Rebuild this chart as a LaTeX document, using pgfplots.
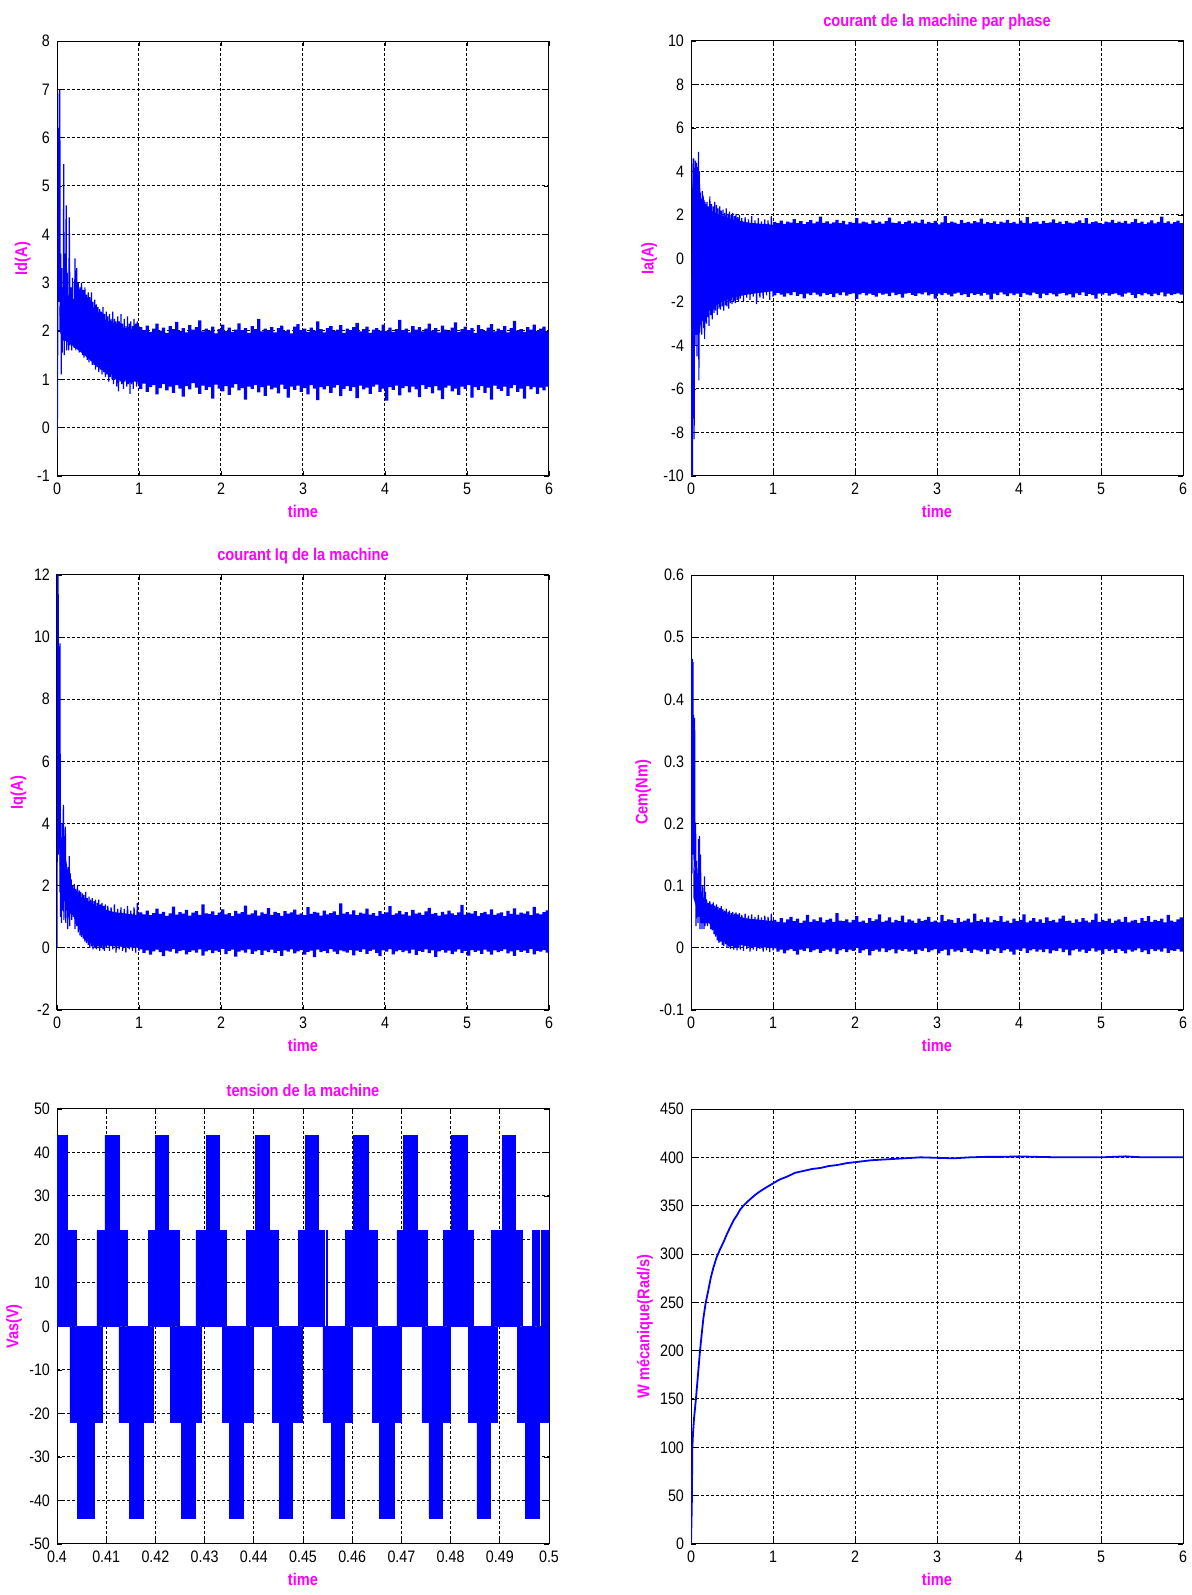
\documentclass[border=0pt]{standalone}
\usepackage{fontspec}
\setmainfont{Liberation Sans}[FakeStretch=0.86]
\usepackage{pgfplots}
\pgfplotsset{compat=1.18}
\definecolor{mag}{RGB}{255,0,255}
\definecolor{mblue}{RGB}{0,0,255}
\pgfplotsset{
 panel/.style={
  scale only axis, width=246pt, height=217.5pt, anchor=south west,
  axis line style={black, line width=0.5pt},
  grid=major,
  major grid style={black, line width=0.5pt, dash pattern=on 1.5pt off 1pt},
  tick align=inside, major tick length=2.5pt,
  tick style={black, line width=0.4pt},
  tick label style={font=\fontsize{8.3}{10}\selectfont, black},
  /pgf/number format/assume math mode=true,
  scaled ticks=false,
  xlabel={time},
  every axis x label/.style={at={(axis description cs:0.5,-0.0818)}, anchor=center, font=\fontsize{8.5}{10}\selectfont\bfseries, text=mag},
  every axis y label/.style={rotate=90, anchor=center, font=\fontsize{8.5}{10}\selectfont\bfseries, text=mag},
  every axis title/.style={at={(axis description cs:0.5,1.0423)}, anchor=center, font=\fontsize{8.5}{10}\selectfont\bfseries, text=mag},
  xmin=0, xmax=6, xtick={0,1,2,3,4,5,6},
 },
 zig/.style={mblue, line width=0.6pt, line join=bevel},
 core/.style={fill=mblue, draw=none},
 band/.style={fill=mblue, draw=none, const plot},
}
\begin{document}
\begin{tikzpicture}
\useasboundingbox (0,0) rectangle (596pt,797.5pt);
% ---------------- Id ----------------
\begin{axis}[panel, at={(28.5pt,559.5pt)}, ymin=-1, ymax=8, ytick={-1,0,...,8},
 ylabel={Id(A)}, ylabel style={at={(axis description cs:-0.0699,0.5)}}]
\addplot[core] coordinates {(0.03,2.5) (0.1,2.9) (0.15,2.7) (0.3,2.6) (0.4,2.5) (0.5,2.3) (0.6,2.2) (0.8,2.05) (1.0,1.98) (1.0,0.95) (0.8,1.0) (0.6,1.15) (0.5,1.25) (0.4,1.4) (0.3,1.55) (0.15,1.75) (0.1,1.8) (0.03,2.0)};
\addplot[zig] coordinates {(0,-0.1) (0.004,-0.2) (0.01,2.4) (0.016,6.2) (0.022,2.6) (0.028,6.9) (0.034,7.0) (0.04,2.3) (0.046,3.6) (0.052,1.1) (0.058,3.3) (0.064,1.55) (0.07,2.9) (0.076,1.8) (0.082,5.45) (0.088,1.5) (0.094,3.6) (0.1,1.8) (0.106,2.9) (0.112,4.6) (0.118,1.6) (0.124,3.2) (0.13,1.9) (0.136,2.7) (0.142,1.6)
(0.15,4.35) (0.16,1.7) (0.17,2.9) (0.18,1.6) (0.19,3.1) (0.20,1.75) (0.21,1.65) (0.22,3.5) (0.23,1.6) (0.24,3.3) (0.25,1.7) (0.26,3.0) (0.27,1.55) (0.28,2.9) (0.29,1.6) (0.30,3.0) (0.31,1.5) (0.32,2.85) (0.33,1.45) (0.34,2.9) (0.35,1.5) (0.36,2.75) (0.37,1.4) (0.38,2.8) (0.39,1.35) (0.40,2.7) (0.41,1.4) (0.42,2.8) (0.43,1.3) (0.44,2.6) (0.45,1.3) (0.46,2.65) (0.47,1.2) (0.48,2.55) (0.49,1.25) (0.50,2.5) (0.51,1.15) (0.52,2.45) (0.53,1.2) (0.54,2.4) (0.55,1.1) (0.56,2.5) (0.57,1.15) (0.58,2.35) (0.59,1.05) (0.60,2.4) (0.61,1.1) (0.62,2.3) (0.63,0.95) (0.64,2.35) (0.65,1.05) (0.66,2.25) (0.67,1.0) (0.68,2.4) (0.69,0.9) (0.70,2.25) (0.71,1.0) (0.72,2.2) (0.73,0.85) (0.74,2.3) (0.75,0.75) (0.76,2.2) (0.77,0.95) (0.78,2.35) (0.79,0.9) (0.80,2.15) (0.81,0.8) (0.82,2.25) (0.83,0.95) (0.84,2.1) (0.85,0.85) (0.86,2.3) (0.87,0.9) (0.88,2.15) (0.89,0.7) (0.90,2.2) (0.91,0.9) (0.92,2.1) (0.93,0.8) (0.94,2.25) (0.95,0.95) (0.96,2.15) (0.97,0.85) (0.98,2.2) (0.99,0.9) (1.00,2.1)};
\addplot[band] coordinates {
(1.00,2.08) (1.04,2.02) (1.08,2.11) (1.12,1.98) (1.16,2.05) (1.20,2.15) (1.24,2.01) (1.28,2.07) (1.32,1.96) (1.36,2.10) (1.40,2.04) (1.44,2.19) (1.48,2.00) (1.52,2.06) (1.56,1.97) (1.60,2.12) (1.64,2.03) (1.68,2.08) (1.72,2.22) (1.76,1.99) (1.80,2.05)
(1.84,2.01) (1.88,2.09) (1.92,1.95) (1.96,2.04) (2.00,2.13) (2.04,2.00) (2.08,2.07) (2.12,1.98) (2.16,2.03) (2.20,2.16) (2.24,2.02) (2.28,2.06) (2.32,1.96) (2.36,2.10) (2.40,2.04) (2.44,2.25) (2.48,1.99) (2.52,2.05) (2.56,2.01) (2.60,2.08) (2.64,1.97)
(2.68,2.06) (2.72,2.11) (2.76,2.00) (2.80,2.03) (2.84,1.95) (2.88,2.09) (2.92,2.14) (2.96,2.02) (3.00,2.05) (3.04,1.98) (3.08,2.07) (3.12,2.01) (3.16,2.20) (3.20,2.04) (3.24,1.97) (3.28,2.06) (3.32,2.10) (3.36,2.00) (3.40,2.03) (3.44,2.12) (3.48,1.96)
(3.52,2.05) (3.56,2.02) (3.60,2.08) (3.64,2.17) (3.68,1.99) (3.72,2.04) (3.76,2.09) (3.80,1.96) (3.84,2.03) (3.88,2.06) (3.92,2.01) (3.96,2.13) (4.00,2.00) (4.04,2.07) (4.08,1.98) (4.12,2.04) (4.16,2.23) (4.20,2.02) (4.24,2.05) (4.28,1.97) (4.32,2.10)
(4.36,2.03) (4.40,2.08) (4.44,1.99) (4.48,2.05) (4.52,2.15) (4.56,2.01) (4.60,2.06) (4.64,1.97) (4.68,2.11) (4.72,2.03) (4.76,2.00) (4.80,2.07) (4.84,2.18) (4.88,1.98) (4.92,2.04) (4.96,2.09) (5.00,2.02) (5.04,2.06) (5.08,1.96) (5.12,2.12) (5.16,2.04)
(5.20,2.00) (5.24,2.07) (5.28,2.14) (5.32,1.99) (5.36,2.05) (5.40,2.02) (5.44,2.10) (5.48,1.97) (5.52,2.06) (5.56,2.21) (5.60,2.01) (5.64,2.04) (5.68,1.98) (5.72,2.08) (5.76,2.03) (5.80,2.13) (5.84,2.00) (5.88,2.05) (5.92,2.09) (5.96,1.99) (6.00,2.06)
(6.00,0.85) (5.96,0.77) (5.92,0.83) (5.88,0.70) (5.84,0.84) (5.80,0.79) (5.76,0.86) (5.72,0.60) (5.68,0.81) (5.64,0.74) (5.60,0.88) (5.56,0.82) (5.52,0.66) (5.48,0.85) (5.44,0.76) (5.40,0.80) (5.36,0.87) (5.32,0.58) (5.28,0.83) (5.24,0.72) (5.20,0.86)
(5.16,0.78) (5.12,0.84) (5.08,0.62) (5.04,0.88) (5.00,0.80) (4.96,0.85) (4.92,0.68) (4.88,0.81) (4.84,0.75) (4.80,0.87) (4.76,0.83) (4.72,0.59) (4.68,0.77) (4.64,0.86) (4.60,0.71) (4.56,0.84) (4.52,0.80) (4.48,0.88) (4.44,0.63) (4.40,0.79) (4.36,0.85)
(4.32,0.73) (4.28,0.86) (4.24,0.82) (4.20,0.67) (4.16,0.87) (4.12,0.78) (4.08,0.84) (4.04,0.56) (4.00,0.81) (3.96,0.74) (3.92,0.89) (3.88,0.85) (3.84,0.70) (3.80,0.83) (3.76,0.79) (3.72,0.87) (3.68,0.61) (3.64,0.84) (3.60,0.76) (3.56,0.86) (3.52,0.80)
(3.48,0.65) (3.44,0.88) (3.40,0.83) (3.36,0.72) (3.32,0.86) (3.28,0.79) (3.24,0.84) (3.20,0.57) (3.16,0.81) (3.12,0.88) (3.08,0.69) (3.04,0.82) (3.00,0.74) (2.96,0.87) (2.92,0.78) (2.88,0.85) (2.84,0.62) (2.80,0.80) (2.76,0.89) (2.72,0.71) (2.68,0.83)
(2.64,0.79) (2.60,0.87) (2.56,0.66) (2.52,0.84) (2.48,0.73) (2.44,0.88) (2.40,0.80) (2.36,0.85) (2.32,0.58) (2.28,0.82) (2.24,0.77) (2.20,0.90) (2.16,0.83) (2.12,0.68) (2.08,0.86) (2.04,0.75) (2.00,0.81) (1.96,0.89) (1.92,0.60) (1.88,0.84) (1.84,0.78)
(1.80,0.87) (1.76,0.70) (1.72,0.83) (1.68,0.92) (1.64,0.79) (1.60,0.86) (1.56,0.64) (1.52,0.81) (1.48,0.88) (1.44,0.72) (1.40,0.85) (1.36,0.77) (1.32,0.90) (1.28,0.82) (1.24,0.69) (1.20,0.88) (1.16,0.84) (1.12,0.74) (1.08,0.91) (1.04,0.80) (1.00,0.86)};
\end{axis}
% ---------------- Ia ----------------
\begin{axis}[panel, at={(345.5pt,559.5pt)}, ymin=-10, ymax=10, ytick={-10,-8,...,10},
 ylabel={Ia(A)}, ylabel style={at={(axis description cs:-0.0850,0.5)}},
 title={courant de la machine par phase}]
\addplot[core] coordinates {(0.012,3.0) (0.03,4.2) (0.1,4.0) (0.12,2.8) (0.2,2.3) (0.3,2.1) (0.4,1.95) (0.5,1.8) (0.7,1.65) (1.0,1.55) (1.0,-1.5) (0.7,-1.65) (0.5,-1.8) (0.4,-1.95) (0.3,-2.1) (0.2,-2.5) (0.12,-3.0) (0.1,-3.5) (0.03,-3.5) (0.012,-5)};
\addplot[zig] coordinates {(0,0.2) (0.004,-2) (0.008,-10.5) (0.014,-9.5) (0.018,-10.5) (0.022,2.5) (0.026,4.6) (0.03,-6) (0.034,4.6) (0.038,-8.3) (0.044,3.5) (0.05,-4) (0.056,4.5) (0.062,-3.5) (0.068,4.4) (0.074,-4.5) (0.08,4.2) (0.086,-3.2) (0.092,4.9) (0.096,-5.6) (0.1,4.0) (0.106,-3.4) (0.112,3.0) (0.118,-3.0) (0.124,2.6) (0.13,-3.5) (0.136,3.1) (0.142,-2.8) (0.148,2.9) (0.154,-3.2) (0.16,2.7) (0.166,-3.7) (0.172,2.6) (0.178,-2.9) (0.184,2.5) (0.19,-3.0) (0.196,2.6) (0.2,-2.7)
(0.21,2.4) (0.22,-3.1) (0.23,2.85) (0.24,-2.6) (0.25,2.5) (0.26,-2.8) (0.27,2.4) (0.28,-2.5) (0.29,2.6) (0.30,-2.4) (0.31,2.45) (0.32,-2.6) (0.33,2.3) (0.34,-2.3) (0.35,2.4) (0.36,-2.35) (0.37,2.2) (0.38,-2.2) (0.39,2.25) (0.40,-2.4) (0.41,2.1) (0.42,-2.15) (0.43,2.3) (0.44,-2.2) (0.45,2.05) (0.46,-2.3) (0.47,2.15) (0.48,-2.05) (0.49,2.0) (0.50,-2.1) (0.51,2.1) (0.52,-1.95) (0.53,1.95) (0.54,-2.05) (0.55,2.05) (0.56,-1.9) (0.57,1.9) (0.58,-2.0) (0.59,2.0) (0.60,-1.85) (0.62,1.85) (0.64,-1.95) (0.66,1.9) (0.68,-1.8) (0.70,1.8) (0.72,-1.9) (0.74,1.95) (0.76,-1.75) (0.78,1.75) (0.80,-2.1) (0.82,1.85) (0.84,-1.8) (0.86,1.7) (0.88,-1.85) (0.90,1.8) (0.92,-1.7) (0.94,1.75) (0.96,-1.9) (0.98,1.95) (1.00,-1.75)};
\addplot[band] coordinates {
(1.00,1.68) (1.04,1.62) (1.08,1.74) (1.12,1.59) (1.16,1.70) (1.20,1.65) (1.24,1.81) (1.28,1.63) (1.32,1.72) (1.36,1.58) (1.40,1.67) (1.44,1.76) (1.48,1.61) (1.52,1.69) (1.56,1.92) (1.60,1.64) (1.64,1.71) (1.68,1.60) (1.72,1.66) (1.76,1.78) (1.80,1.62)
(1.84,1.73) (1.88,1.57) (1.92,1.68) (1.96,1.64) (2.00,1.85) (2.04,1.61) (2.08,1.70) (2.12,1.66) (2.16,1.59) (2.20,1.75) (2.24,1.63) (2.28,1.69) (2.32,1.60) (2.36,1.72) (2.40,1.88) (2.44,1.65) (2.48,1.62) (2.52,1.71) (2.56,1.58) (2.60,1.67) (2.64,1.74)
(2.68,1.61) (2.72,1.69) (2.76,1.64) (2.80,1.79) (2.84,1.60) (2.88,1.68) (2.92,1.63) (2.96,1.73) (3.00,1.57) (3.04,1.66) (3.08,1.95) (3.12,1.62) (3.16,1.70) (3.20,1.65) (3.24,1.59) (3.28,1.76) (3.32,1.64) (3.36,1.68) (3.40,1.61) (3.44,1.72) (3.48,1.66)
(3.52,1.83) (3.56,1.60) (3.60,1.67) (3.64,1.63) (3.68,1.71) (3.72,1.58) (3.76,1.69) (3.80,1.65) (3.84,1.77) (3.88,1.62) (3.92,1.68) (3.96,1.60) (4.00,1.74) (4.04,1.64) (4.08,1.90) (4.12,1.61) (4.16,1.67) (4.20,1.70) (4.24,1.59) (4.28,1.73) (4.32,1.63)
(4.36,1.66) (4.40,1.80) (4.44,1.62) (4.48,1.69) (4.52,1.58) (4.56,1.72) (4.60,1.65) (4.64,1.61) (4.68,1.68) (4.72,1.75) (4.76,1.63) (4.80,1.86) (4.84,1.60) (4.88,1.67) (4.92,1.71) (4.96,1.64) (5.00,1.59) (5.04,1.70) (5.08,1.66) (5.12,1.78) (5.16,1.62)
(5.20,1.69) (5.24,1.64) (5.28,1.73) (5.32,1.60) (5.36,1.67) (5.40,1.82) (5.44,1.63) (5.48,1.70) (5.52,1.58) (5.56,1.66) (5.60,1.75) (5.64,1.61) (5.68,1.68) (5.72,1.93) (5.76,1.64) (5.80,1.71) (5.84,1.60) (5.88,1.67) (5.92,1.74) (5.96,1.62) (6.00,1.69)
(6.00,-1.66) (5.96,-1.60) (5.92,-1.64) (5.88,-1.69) (5.84,-1.62) (5.80,-1.74) (5.76,-1.56) (5.72,-1.68) (5.68,-1.61) (5.64,-1.73) (5.60,-1.65) (5.56,-1.59) (5.52,-1.70) (5.48,-1.63) (5.44,-1.81) (5.40,-1.67) (5.36,-1.57) (5.32,-1.62) (5.28,-1.75) (5.24,-1.68) (5.20,-1.60)
(5.16,-1.64) (5.12,-1.71) (5.08,-1.58) (5.04,-1.66) (5.00,-1.61) (4.96,-1.85) (4.92,-1.69) (4.88,-1.63) (4.84,-1.72) (4.80,-1.56) (4.76,-1.67) (4.72,-1.60) (4.68,-1.79) (4.64,-1.64) (4.60,-1.70) (4.56,-1.58) (4.52,-1.62) (4.48,-1.74) (4.44,-1.65) (4.40,-1.59) (4.36,-1.68)
(4.32,-1.61) (4.28,-1.82) (4.24,-1.64) (4.20,-1.57) (4.16,-1.70) (4.12,-1.66) (4.08,-1.59) (4.04,-1.76) (4.00,-1.62) (3.96,-1.68) (3.92,-1.60) (3.88,-1.73) (3.84,-1.65) (3.80,-1.56) (3.76,-1.69) (3.72,-1.61) (3.68,-1.88) (3.64,-1.66) (3.60,-1.58) (3.56,-1.71) (3.52,-1.63)
(3.48,-1.67) (3.44,-1.60) (3.40,-1.77) (3.36,-1.64) (3.32,-1.69) (3.28,-1.57) (3.24,-1.62) (3.20,-1.74) (3.16,-1.66) (3.12,-1.59) (3.08,-1.68) (3.04,-1.61) (3.00,-1.84) (2.96,-1.63) (2.92,-1.70) (2.88,-1.56) (2.84,-1.65) (2.80,-1.60) (2.76,-1.72) (2.72,-1.67) (2.68,-1.58)
(2.64,-1.62) (2.60,-1.80) (2.56,-1.64) (2.52,-1.69) (2.48,-1.57) (2.44,-1.73) (2.40,-1.61) (2.36,-1.66) (2.32,-1.59) (2.28,-1.75) (2.24,-1.67) (2.20,-1.62) (2.16,-1.70) (2.12,-1.58) (2.08,-1.65) (2.04,-1.86) (2.00,-1.60) (1.96,-1.64) (1.92,-1.71) (1.88,-1.56) (1.84,-1.68)
(1.80,-1.60) (1.76,-1.78) (1.72,-1.63) (1.68,-1.67) (1.64,-1.59) (1.60,-1.74) (1.56,-1.66) (1.52,-1.57) (1.48,-1.69) (1.44,-1.61) (1.40,-1.83) (1.36,-1.64) (1.32,-1.72) (1.28,-1.55) (1.24,-1.68) (1.20,-1.60) (1.16,-1.75) (1.12,-1.66) (1.08,-1.58) (1.04,-1.70) (1.00,-1.62)};
\end{axis}
% ---------------- Iq ----------------
\begin{axis}[panel, at={(28.5pt,292.5pt)}, ymin=-2, ymax=12, ytick={-2,0,...,12},
 ylabel={Iq(A)}, ylabel style={at={(axis description cs:-0.0785,0.5)}},
 title={courant Iq de la machine}]
\addplot[core] coordinates {(0.03,3.2) (0.1,3.0) (0.17,1.9) (0.3,1.6) (0.5,1.3) (0.7,1.15) (1.0,1.05) (1.0,0.0) (0.7,0.05) (0.5,0.1) (0.4,0.15) (0.3,0.45) (0.17,1.2) (0.1,1.5) (0.03,1.8)};
\addplot[zig] coordinates {(0,0) (0.004,6) (0.008,12.5) (0.012,12.8) (0.016,10) (0.02,3.0) (0.026,9.7) (0.03,3.2) (0.036,9.8) (0.042,1.0) (0.048,3.5) (0.054,0.8) (0.06,4.0) (0.066,1.2) (0.072,3.0) (0.078,4.6) (0.084,0.9) (0.09,3.6) (0.096,1.5) (0.102,3.9) (0.108,0.8) (0.114,2.5) (0.12,1.2) (0.126,2.3) (0.132,0.6) (0.138,2.6) (0.144,1.0) (0.15,2.95) (0.156,0.7) (0.162,2.4) (0.168,1.1) (0.174,2.2) (0.18,0.9)
(0.19,2.0) (0.20,1.0) (0.21,2.05) (0.22,0.6) (0.23,1.9) (0.24,0.7) (0.25,2.0) (0.26,0.5) (0.27,1.85) (0.28,0.4) (0.29,1.8) (0.30,0.35) (0.31,1.75) (0.32,0.3) (0.33,1.7) (0.34,0.2) (0.35,1.8) (0.36,0.15) (0.37,1.6) (0.38,0.1) (0.39,1.65) (0.40,0.0) (0.41,1.55) (0.42,0.05) (0.43,1.6) (0.44,-0.05) (0.45,1.5) (0.46,0.0) (0.47,1.55) (0.48,-0.05) (0.49,1.45) (0.50,0.05) (0.51,1.55) (0.52,-0.1) (0.53,1.4) (0.54,0.0) (0.55,1.45) (0.56,-0.05) (0.57,1.35) (0.58,-0.1) (0.59,1.4) (0.60,0.0) (0.62,1.35) (0.64,-0.1) (0.66,1.3) (0.68,-0.05) (0.70,1.4) (0.72,-0.15) (0.74,1.25) (0.76,-0.05) (0.78,1.3) (0.80,-0.1) (0.82,1.25) (0.84,-0.15) (0.86,1.35) (0.88,-0.05) (0.90,1.2) (0.92,-0.1) (0.94,1.3) (0.96,-0.15) (0.98,1.45) (1.00,-0.1)};
\addplot[band] coordinates {
(1.00,1.14) (1.04,1.08) (1.08,1.20) (1.12,1.05) (1.16,1.12) (1.20,1.26) (1.24,1.09) (1.28,1.16) (1.32,1.03) (1.36,1.11) (1.40,1.33) (1.44,1.07) (1.48,1.15) (1.52,1.10) (1.56,1.22) (1.60,1.04) (1.64,1.13) (1.68,1.18) (1.72,1.06) (1.76,1.40) (1.80,1.11)
(1.84,1.09) (1.88,1.17) (1.92,1.05) (1.96,1.13) (2.00,1.24) (2.04,1.08) (2.08,1.12) (2.12,1.02) (2.16,1.19) (2.20,1.10) (2.24,1.15) (2.28,1.36) (2.32,1.07) (2.36,1.11) (2.40,1.21) (2.44,1.04) (2.48,1.14) (2.52,1.09) (2.56,1.28) (2.60,1.06) (2.64,1.16)
(2.68,1.12) (2.72,1.03) (2.76,1.18) (2.80,1.10) (2.84,1.14) (2.88,1.23) (2.92,1.07) (2.96,1.11) (3.00,1.05) (3.04,1.31) (3.08,1.09) (3.12,1.16) (3.16,1.13) (3.20,1.04) (3.24,1.20) (3.28,1.08) (3.32,1.12) (3.36,1.17) (3.40,1.06) (3.44,1.43) (3.48,1.10)
(3.52,1.15) (3.56,1.08) (3.60,1.21) (3.64,1.05) (3.68,1.13) (3.72,1.10) (3.76,1.26) (3.80,1.07) (3.84,1.12) (3.88,1.03) (3.92,1.18) (3.96,1.09) (4.00,1.14) (4.04,1.34) (4.08,1.06) (4.12,1.11) (4.16,1.19) (4.20,1.08) (4.24,1.15) (4.28,1.04) (4.32,1.22)
(4.36,1.10) (4.40,1.13) (4.44,1.06) (4.48,1.17) (4.52,1.29) (4.56,1.09) (4.60,1.12) (4.64,1.04) (4.68,1.16) (4.72,1.08) (4.76,1.20) (4.80,1.11) (4.84,1.05) (4.88,1.14) (4.92,1.38) (4.96,1.07) (5.00,1.13) (5.04,1.10) (5.08,1.18) (5.12,1.03) (5.16,1.12)
(5.20,1.16) (5.24,1.08) (5.28,1.24) (5.32,1.06) (5.36,1.11) (5.40,1.14) (5.44,1.02) (5.48,1.19) (5.52,1.09) (5.56,1.27) (5.60,1.07) (5.64,1.13) (5.68,1.10) (5.72,1.17) (5.76,1.05) (5.80,1.32) (5.84,1.11) (5.88,1.08) (5.92,1.15) (5.96,1.21) (6.00,1.09)
(6.00,-0.15) (5.96,-0.07) (5.92,-0.12) (5.88,-0.10) (5.84,-0.21) (5.80,-0.04) (5.76,-0.16) (5.72,-0.09) (5.68,-0.13) (5.64,-0.07) (5.60,-0.26) (5.56,-0.11) (5.52,-0.18) (5.48,-0.05) (5.44,-0.10) (5.40,-0.14) (5.36,-0.08) (5.32,-0.22) (5.28,-0.12) (5.24,-0.06) (5.20,-0.19)
(5.16,-0.09) (5.12,-0.13) (5.08,-0.07) (5.04,-0.25) (5.00,-0.10) (4.96,-0.16) (4.92,-0.05) (4.88,-0.12) (4.84,-0.20) (4.80,-0.09) (4.76,-0.15) (4.72,-0.07) (4.68,-0.11) (4.64,-0.29) (4.60,-0.08) (4.56,-0.17) (4.52,-0.05) (4.48,-0.13) (4.44,-0.10) (4.40,-0.23) (4.36,-0.06)
(4.32,-0.18) (4.28,-0.09) (4.24,-0.14) (4.20,-0.07) (4.16,-0.11) (4.12,-0.21) (4.08,-0.04) (4.04,-0.12) (4.00,-0.08) (3.96,-0.27) (3.92,-0.16) (3.88,-0.06) (3.84,-0.10) (3.80,-0.19) (3.76,-0.05) (3.72,-0.13) (3.68,-0.09) (3.64,-0.24) (3.60,-0.07) (3.56,-0.15) (3.52,-0.11)
(3.48,-0.08) (3.44,-0.20) (3.40,-0.12) (3.36,-0.04) (3.32,-0.17) (3.28,-0.10) (3.24,-0.14) (3.20,-0.06) (3.16,-0.30) (3.12,-0.09) (3.08,-0.13) (3.04,-0.22) (3.00,-0.07) (2.96,-0.11) (2.92,-0.18) (2.88,-0.05) (2.84,-0.12) (2.80,-0.08) (2.76,-0.26) (2.72,-0.10) (2.68,-0.16)
(2.64,-0.06) (2.60,-0.14) (2.56,-0.09) (2.52,-0.23) (2.48,-0.07) (2.44,-0.11) (2.40,-0.19) (2.36,-0.05) (2.32,-0.15) (2.28,-0.08) (2.24,-0.12) (2.20,-0.28) (2.16,-0.06) (2.12,-0.10) (2.08,-0.20) (2.04,-0.03) (2.00,-0.13) (1.96,-0.09) (1.92,-0.17) (1.88,-0.07) (1.84,-0.11)
(1.80,-0.25) (1.76,-0.05) (1.72,-0.15) (1.68,-0.08) (1.64,-0.13) (1.60,-0.21) (1.56,-0.07) (1.52,-0.10) (1.48,-0.18) (1.44,-0.04) (1.40,-0.12) (1.36,-0.09) (1.32,-0.27) (1.28,-0.14) (1.24,-0.06) (1.20,-0.11) (1.16,-0.22) (1.12,-0.08) (1.08,-0.16) (1.04,-0.05) (1.00,-0.10)};
\end{axis}
% ---------------- Cem ----------------
\begin{axis}[panel, at={(345.5pt,292.5pt)}, ymin=-0.1, ymax=0.6, ytick={-0.1,0,0.1,0.2,0.3,0.4,0.5,0.6},
 ylabel={Cem(Nm)}, ylabel style={at={(axis description cs:-0.0972,0.5)}}]
\addplot[core] coordinates {(0.03,0.13) (0.1,0.1) (0.17,0.075) (0.3,0.062) (0.5,0.052) (0.7,0.047) (1.0,0.043) (1.0,0.0) (0.7,0.002) (0.5,0.008) (0.4,0.01) (0.3,0.025) (0.17,0.05) (0.1,0.05) (0.03,0.08)};
\addplot[zig] coordinates {(0,0) (0.004,0.2) (0.008,0.465) (0.012,0.12) (0.016,0.465) (0.02,0.15) (0.024,0.46) (0.028,0.2) (0.032,0.375) (0.038,0.13) (0.044,0.37) (0.05,0.08) (0.056,0.2) (0.062,0.035) (0.068,0.14) (0.074,0.05) (0.08,0.12) (0.086,0.04) (0.092,0.175) (0.098,0.05) (0.104,0.18) (0.11,0.03) (0.116,0.15) (0.122,0.04) (0.128,0.09) (0.134,0.03) (0.14,0.1) (0.146,0.04) (0.152,0.08) (0.158,0.03) (0.164,0.115) (0.17,0.035) (0.176,0.09) (0.182,0.04)
(0.19,0.078) (0.20,0.035) (0.21,0.072) (0.22,0.04) (0.23,0.075) (0.24,0.03) (0.25,0.07) (0.26,0.028) (0.27,0.073) (0.28,0.022) (0.29,0.068) (0.30,0.018) (0.31,0.07) (0.32,0.012) (0.33,0.066) (0.34,0.008) (0.35,0.064) (0.36,0.01) (0.37,0.067) (0.38,0.005) (0.39,0.062) (0.40,0.003) (0.41,0.06) (0.42,0.006) (0.43,0.063) (0.44,0.0) (0.45,0.058) (0.46,0.002) (0.47,0.06) (0.48,-0.002) (0.49,0.056) (0.50,0.003) (0.51,0.058) (0.52,-0.003) (0.53,0.055) (0.54,0.0) (0.55,0.057) (0.56,-0.004) (0.57,0.054) (0.58,0.0) (0.59,0.056) (0.60,-0.003) (0.62,0.053) (0.64,-0.005) (0.66,0.055) (0.68,-0.002) (0.70,0.052) (0.72,-0.006) (0.74,0.054) (0.76,-0.003) (0.78,0.05) (0.80,-0.005) (0.82,0.053) (0.84,-0.002) (0.86,0.049) (0.88,-0.006) (0.90,0.052) (0.92,-0.004) (0.94,0.05) (0.96,-0.007) (0.98,0.055) (1.00,-0.004)};
\addplot[band] coordinates {
(1.00,0.045) (1.04,0.042) (1.08,0.048) (1.12,0.041) (1.16,0.046) (1.20,0.050) (1.24,0.043) (1.28,0.047) (1.32,0.040) (1.36,0.044) (1.40,0.053) (1.44,0.042) (1.48,0.046) (1.52,0.043) (1.56,0.049) (1.60,0.041) (1.64,0.045) (1.68,0.047) (1.72,0.042) (1.76,0.056) (1.80,0.044)
(1.84,0.043) (1.88,0.046) (1.92,0.041) (1.96,0.045) (2.00,0.051) (2.04,0.042) (2.08,0.044) (2.12,0.040) (2.16,0.048) (2.20,0.043) (2.24,0.046) (2.28,0.054) (2.32,0.042) (2.36,0.044) (2.40,0.049) (2.44,0.041) (2.48,0.045) (2.52,0.043) (2.56,0.052) (2.60,0.041) (2.64,0.046)
(2.68,0.044) (2.72,0.040) (2.76,0.047) (2.80,0.043) (2.84,0.045) (2.88,0.050) (2.92,0.042) (2.96,0.044) (3.00,0.041) (3.04,0.053) (3.08,0.043) (3.12,0.046) (3.16,0.045) (3.20,0.040) (3.24,0.048) (3.28,0.042) (3.32,0.044) (3.36,0.047) (3.40,0.041) (3.44,0.055) (3.48,0.043)
(3.52,0.046) (3.56,0.042) (3.60,0.049) (3.64,0.041) (3.68,0.045) (3.72,0.043) (3.76,0.051) (3.80,0.042) (3.84,0.044) (3.88,0.040) (3.92,0.047) (3.96,0.043) (4.00,0.045) (4.04,0.054) (4.08,0.041) (4.12,0.044) (4.16,0.048) (4.20,0.042) (4.24,0.046) (4.28,0.040) (4.32,0.049)
(4.36,0.043) (4.40,0.045) (4.44,0.041) (4.48,0.047) (4.52,0.052) (4.56,0.043) (4.60,0.044) (4.64,0.040) (4.68,0.046) (4.72,0.042) (4.76,0.048) (4.80,0.044) (4.84,0.041) (4.88,0.045) (4.92,0.055) (4.96,0.042) (5.00,0.045) (5.04,0.043) (5.08,0.047) (5.12,0.040) (5.16,0.044)
(5.20,0.046) (5.24,0.042) (5.28,0.050) (5.32,0.041) (5.36,0.044) (5.40,0.045) (5.44,0.040) (5.48,0.048) (5.52,0.043) (5.56,0.051) (5.60,0.042) (5.64,0.045) (5.68,0.043) (5.72,0.047) (5.76,0.041) (5.80,0.053) (5.84,0.044) (5.88,0.042) (5.92,0.046) (5.96,0.049) (6.00,0.043)
(6.00,-0.006) (5.96,-0.002) (5.92,-0.005) (5.88,-0.004) (5.84,-0.008) (5.80,-0.001) (5.76,-0.006) (5.72,-0.003) (5.68,-0.005) (5.64,-0.002) (5.60,-0.010) (5.56,-0.004) (5.52,-0.007) (5.48,-0.001) (5.44,-0.004) (5.40,-0.006) (5.36,-0.003) (5.32,-0.009) (5.28,-0.005) (5.24,-0.002) (5.20,-0.008)
(5.16,-0.003) (5.12,-0.005) (5.08,-0.002) (5.04,-0.010) (5.00,-0.004) (4.96,-0.006) (4.92,-0.001) (4.88,-0.005) (4.84,-0.008) (4.80,-0.003) (4.76,-0.006) (4.72,-0.002) (4.68,-0.004) (4.64,-0.012) (4.60,-0.003) (4.56,-0.007) (4.52,-0.001) (4.48,-0.005) (4.44,-0.004) (4.40,-0.009) (4.36,-0.002)
(4.32,-0.007) (4.28,-0.003) (4.24,-0.006) (4.20,-0.002) (4.16,-0.004) (4.12,-0.008) (4.08,-0.001) (4.04,-0.005) (4.00,-0.003) (3.96,-0.011) (3.92,-0.006) (3.88,-0.002) (3.84,-0.004) (3.80,-0.008) (3.76,-0.001) (3.72,-0.005) (3.68,-0.003) (3.64,-0.010) (3.60,-0.002) (3.56,-0.006) (3.52,-0.004)
(3.48,-0.003) (3.44,-0.008) (3.40,-0.005) (3.36,-0.001) (3.32,-0.007) (3.28,-0.004) (3.24,-0.006) (3.20,-0.002) (3.16,-0.012) (3.12,-0.003) (3.08,-0.005) (3.04,-0.009) (3.00,-0.002) (2.96,-0.004) (2.92,-0.007) (2.88,-0.001) (2.84,-0.005) (2.80,-0.003) (2.76,-0.010) (2.72,-0.004) (2.68,-0.006)
(2.64,-0.002) (2.60,-0.005) (2.56,-0.003) (2.52,-0.009) (2.48,-0.002) (2.44,-0.004) (2.40,-0.007) (2.36,-0.001) (2.32,-0.006) (2.28,-0.003) (2.24,-0.005) (2.20,-0.012) (2.16,-0.002) (2.12,-0.004) (2.08,-0.008) (2.04,0.000) (2.00,-0.005) (1.96,-0.003) (1.92,-0.007) (1.88,-0.002) (1.84,-0.004)
(1.80,-0.010) (1.76,-0.001) (1.72,-0.006) (1.68,-0.003) (1.64,-0.005) (1.60,-0.008) (1.56,-0.002) (1.52,-0.004) (1.48,-0.007) (1.44,-0.001) (1.40,-0.005) (1.36,-0.003) (1.32,-0.011) (1.28,-0.005) (1.24,-0.002) (1.20,-0.004) (1.16,-0.009) (1.12,-0.003) (1.08,-0.006) (1.04,-0.001) (1.00,-0.004)};
\end{axis}
% ---------------- Vas ----------------
\begin{axis}[panel, at={(28.5pt,25.5pt)}, xmin=0.4, xmax=0.5,
 xtick={0.4,0.41,0.42,0.43,0.44,0.45,0.46,0.47,0.48,0.49,0.5},
 ymin=-50, ymax=50, ytick={-50,-40,...,50},
 ylabel={Vas(V)}, ylabel style={at={(axis description cs:-0.0874,0.5)}},
 title={tension de la machine}]
\addplot[fill=mblue, draw=mblue, line width=0.3pt] coordinates {(0.4,0) (0.4,44) (0.40216,44) (0.40216,22) (0.40385,22) (0.40385,0) (0.40811,0) (0.40811,22) (0.40973,22) (0.40973,44) (0.41216,44) (0.41216,22) (0.41243,22) (0.41243,44) (0.41275,44) (0.41275,22) (0.41419,22) (0.41419,0) (0.41858,0) (0.41858,22) (0.41993,22) (0.41993,44) (0.42264,44) (0.42264,22) (0.4248,22) (0.4248,0) (0.42824,0) (0.42824,22) (0.42851,22) (0.42851,0) (0.42878,0) (0.42878,22) (0.43041,22) (0.43041,44) (0.43304,44) (0.43304,22) (0.43446,22) (0.43446,0) (0.43851,0) (0.43851,22) (0.44034,22) (0.44034,44) (0.44311,44) (0.44311,22) (0.44507,22) (0.44507,0) (0.44899,0) (0.44899,22) (0.45047,22) (0.45047,44) (0.45308,44) (0.45308,22) (0.4544,22) (0.4544,0) (0.45470,0) (0.45470,22) (0.4549,22) (0.4549,0) (0.45856,0) (0.45856,22) (0.46031,22) (0.46031,44) (0.46322,44) (0.46322,22) (0.46505,22) (0.46505,0) (0.4691,0) (0.4691,22) (0.47045,22) (0.47045,44) (0.47316,44) (0.47316,22) (0.47519,22) (0.47519,0) (0.47856,0) (0.47856,22) (0.48012,22) (0.48012,44) (0.4833,44) (0.4833,22) (0.484,22) (0.484,0) (0.4842,0) (0.4842,22) (0.48465,22) (0.48465,0) (0.48824,0) (0.48824,22) (0.4906,22) (0.4906,44) (0.49317,44) (0.49317,22) (0.49466,22) (0.49466,0) (0.49661,0) (0.49661,22) (0.498,22) (0.498,0) (0.4985,0) (0.4985,22) (0.5,22) (0.5,0)};
\addplot[fill=mblue, draw=mblue, line width=0.3pt] coordinates {(0.4,0) (0.40264,0) (0.40264,-22) (0.40419,-22) (0.40419,-44) (0.40764,-44) (0.40764,-22) (0.40926,-22) (0.40926,0) (0.4126,0) (0.4126,-22) (0.41473,-22) (0.41473,-44) (0.4175,-44) (0.4175,-22) (0.41953,-22) (0.41953,0) (0.423,0) (0.423,-22) (0.42534,-22) (0.42534,-44) (0.42804,-44) (0.42804,-22) (0.42939,-22) (0.42939,0) (0.43358,0) (0.43358,-22) (0.435,-22) (0.435,-44) (0.43791,-44) (0.43791,-22) (0.4398,-22) (0.4398,0) (0.44372,0) (0.44372,-22) (0.44514,-22) (0.44514,-44) (0.44784,-44) (0.44784,-22) (0.44993,-22) (0.44993,0) (0.45405,0) (0.45405,-22) (0.45574,-22) (0.45574,-44) (0.45845,-44) (0.45845,-22) (0.45996,-22) (0.45996,0) (0.46403,0) (0.46403,-22) (0.46558,-22) (0.46558,-44) (0.46856,-44) (0.46856,-22) (0.46991,-22) (0.46991,0) (0.47418,0) (0.47418,-22) (0.47559,-22) (0.47559,-44) (0.47823,-44) (0.47823,-22) (0.47992,-22) (0.47992,0) (0.48364,0) (0.48364,-22) (0.48533,-22) (0.48533,-44) (0.48803,-44) (0.48803,-22) (0.48939,-22) (0.48939,0) (0.49357,0) (0.49357,-22) (0.49513,-22) (0.49513,-44) (0.49804,-44) (0.49804,-22) (0.5,-22) (0.5,0)};
\end{axis}
% ---------------- W ----------------
\begin{axis}[panel, at={(345.5pt,25.5pt)}, ymin=0, ymax=450, ytick={0,50,...,450},
 ylabel={W mécanique(Rad/s)}, ylabel style={at={(axis description cs:-0.0935,0.5)}}]
\addplot[mblue, line width=0.9pt] coordinates {(0,0) (0.005,20) (0.01,40) (0.016,99) (0.025,115) (0.037,130) (0.06,150) (0.09,180) (0.11,200) (0.15,233) (0.18,250) (0.21,262) (0.24,275) (0.27,285) (0.31,296) (0.355,305) (0.40,313) (0.44,321) (0.48,328) (0.52,335) (0.56,340) (0.60,346) (0.65,351) (0.70,355) (0.78,361) (0.845,365) (0.92,369) (1.0,373) (1.08,377) (1.17,380) (1.27,384) (1.375,386) (1.48,388) (1.58,389) (1.68,391) (1.78,392) (1.9,394) (2.0,395) (2.2,397) (2.4,398) (2.6,399) (2.8,400) (3.0,399.5) (3.2,399) (3.4,400) (3.6,400.5) (3.8,400.5) (4.0,401) (4.2,400.5) (4.5,400) (5.0,400) (5.3,401) (5.5,400) (6.0,400)};
\end{axis}
\end{tikzpicture}
\end{document}
